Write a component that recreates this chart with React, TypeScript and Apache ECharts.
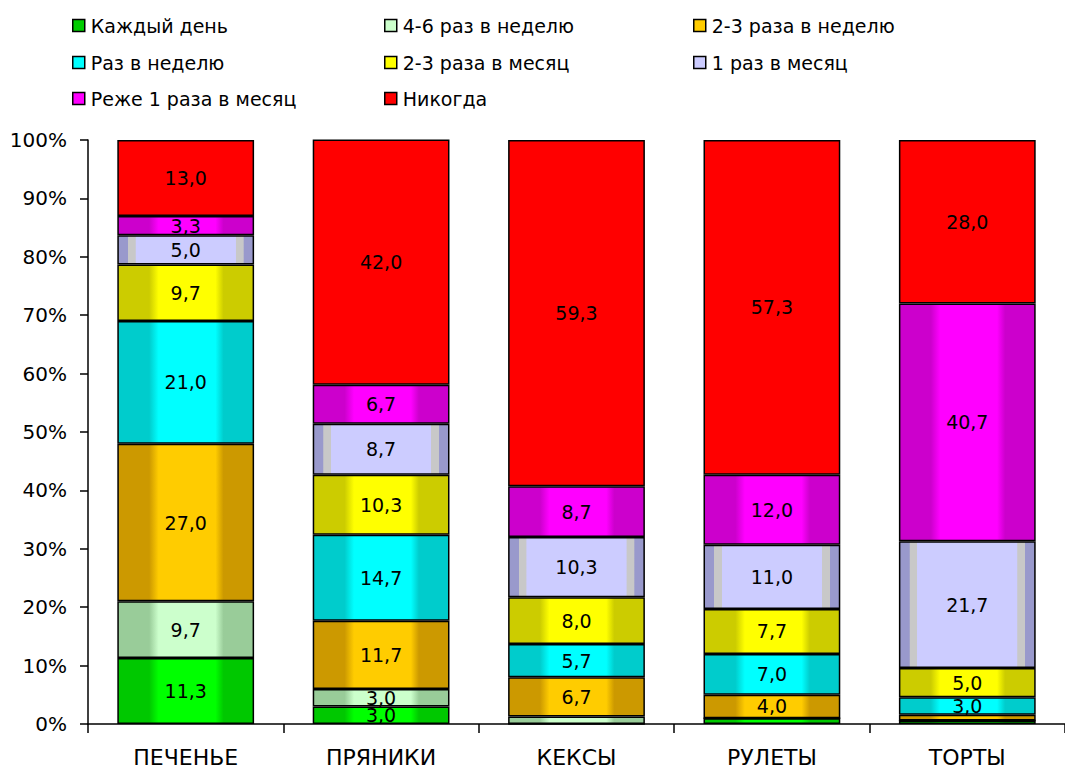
import React, { useEffect, useRef } from "react";
import * as echarts from "echarts";

const categories = ["ПЕЧЕНЬЕ", "ПРЯНИКИ", "КЕКСЫ", "РУЛЕТЫ", "ТОРТЫ"];
const seriesNames = [
  "Каждый день",
  "4-6 раз в неделю",
  "2-3 раза в неделю",
  "Раз в неделю",
  "2-3 раза в месяц",
  "1 раз в месяц",
  "Реже 1 раза в месяц",
  "Никогда",
];
const dailyValues = [11.3, 3.0, 0, 1.0, 0.6];
const times46Values = [9.7, 3.0, 1.3, 0, 0];
const times23WeekValues = [27.0, 11.7, 6.7, 4.0, 1.0];
const onceWeekValues = [21.0, 14.7, 5.7, 7.0, 3.0];
const times23MonthValues = [9.7, 10.3, 8.0, 7.7, 5.0];
const onceMonthValues = [5.0, 8.7, 10.3, 11.0, 21.7];
const rarerValues = [3.3, 6.7, 8.7, 12.0, 40.7];
const neverValues = [13.0, 42.0, 59.3, 57.3, 28.0];
const yTicks = [0, 10, 20, 30, 40, 50, 60, 70, 80, 90, 100];

const allValues = [
  dailyValues,
  times46Values,
  times23WeekValues,
  onceWeekValues,
  times23MonthValues,
  onceMonthValues,
  rarerValues,
  neverValues,
];

const darkColors = ["#00c800", "#99cc99", "#cc9900", "#00cccc", "#cccc00", "#9999cc", "#cc00cc", "#ff0000"];
const brightColors = ["#00ff00", "#ccffcc", "#ffcc00", "#00ffff", "#ffff00", "#ccccff", "#ff00ff", "#ff0000"];
const legendColors = ["#00cc00", "#ccffcc", "#ffcc00", "#00ffff", "#ffff00", "#ccccff", "#ff00ff", "#ff0000"];

const legendPos = [
  [72, 16],
  [384, 16],
  [693, 16],
  [72, 53],
  [384, 53],
  [693, 53],
  [72, 89],
  [384, 89],
];

const FONT = "'DejaVu Sans', 'Liberation Sans', Arial, sans-serif";

function grad(i: number) {
  const d = darkColors[i];
  const b = brightColors[i];
  if (i === 5) {
    const g = "#c8c8c8";
    return new echarts.graphic.LinearGradient(0, 0, 1, 0, [
      { offset: 0, color: d },
      { offset: 0.072, color: d },
      { offset: 0.075, color: g },
      { offset: 0.128, color: g },
      { offset: 0.132, color: b },
      { offset: 0.868, color: b },
      { offset: 0.872, color: g },
      { offset: 0.926, color: g },
      { offset: 0.93, color: d },
      { offset: 1, color: d },
    ]);
  }
  return new echarts.graphic.LinearGradient(0, 0, 1, 0, [
    { offset: 0, color: d },
    { offset: 0.23, color: d },
    { offset: 0.3, color: b },
    { offset: 0.72, color: b },
    { offset: 0.78, color: d },
    { offset: 1, color: d },
  ]);
}

export default function App() {
  const ref = useRef<HTMLDivElement>(null);
  useEffect(() => {
    if (!ref.current) return;
    const chart = echarts.init(ref.current, null, { renderer: "svg" });
    const legends = seriesNames.map((name, i) => ({
      show: true,
      left: legendPos[i][0],
      top: legendPos[i][1],
      data: [{ name, itemStyle: { color: legendColors[i], borderColor: "#000", borderWidth: 1.5 } }],
      icon: "rect",
      itemWidth: 12,
      itemHeight: 12,
      itemGap: 4,
      padding: 0,
      textStyle: { fontFamily: FONT, fontSize: 19, color: "#000", padding: [0, 0, 0, 1] },
    }));
    chart.setOption({
      animation: false,
      backgroundColor: "#fff",
      legend: legends,
      grid: { left: 88, width: 987, top: 140, bottom: 45, containLabel: false },
      xAxis: {
        type: "category",
        data: categories,
        axisLine: { lineStyle: { color: "#000", width: 1.5 } },
        axisTick: { show: true, length: 9, lineStyle: { color: "#000", width: 1.5 } },
        axisLabel: { fontFamily: FONT, fontSize: 22, color: "#000", margin: 22 },
      },
      yAxis: {
        type: "value",
        min: 0,
        max: 100,
        interval: 10,
        splitLine: { show: false },
        axisLine: { show: true, lineStyle: { color: "#000", width: 1.5 } },
        axisTick: { show: true, length: 8, lineStyle: { color: "#000", width: 1.5 } },
        axisLabel: {
          fontFamily: FONT,
          fontSize: 20,
          color: "#000",
          margin: 21,
          formatter: (v: number) => (yTicks.includes(v) ? v + "%" : ""),
        },
      },
      series: allValues.map((vals, i) => ({
        name: seriesNames[i],
        type: "bar",
        stack: "total",
        barWidth: "70%",
        data: vals,
        itemStyle: { color: grad(i), borderColor: "#000", borderWidth: 1.5 },
        label: {
          show: true,
          position: "inside",
          fontFamily: FONT,
          fontSize: 19,
          color: "#000",
          formatter: (p: any) => (p.value >= 2.5 ? p.value.toFixed(1).replace(".", ",") : ""),
        },
      })),
    });
    return () => chart.dispose();
  }, []);
  return (
    <div
      ref={ref}
      style={{ position: "absolute", left: 0, top: 0, width: 1065, height: 769 }}
    />
  );
}
